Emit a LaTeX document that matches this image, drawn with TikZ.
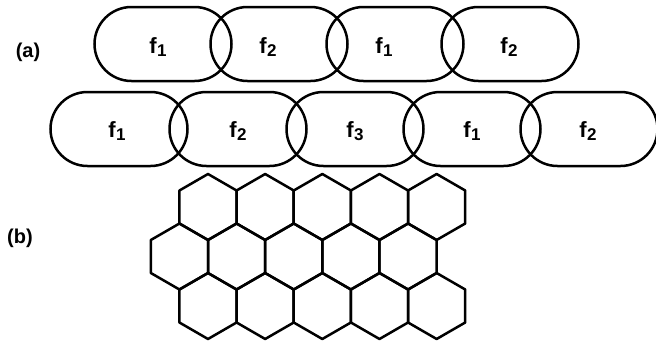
\documentclass[tikz,border=0pt]{standalone}
\usepackage{fontspec}
\setsansfont{Liberation Sans}
\usetikzlibrary{shapes.misc,shapes.geometric}
\newcommand{\freq}[1]{f\kern0.3pt\raisebox{-3pt}{\fontsize{17}{18}\selectfont #1}}
\tikzset{
  cell/.style={rounded rectangle,draw,line width=2.5pt,minimum width=137pt,
    minimum height=74pt,inner sep=0pt,outer sep=0pt},
  hexcell/.style={regular polygon,regular polygon sides=6,regular polygon rotate=30,
    draw,line width=2.5pt,line join=round,minimum size=66pt,inner sep=0pt,outer sep=0pt},
  lbl/.style={font=\sffamily\bfseries\fontsize{22}{24}\selectfont,inner sep=0pt},
  tag/.style={font=\sffamily\bfseries\fontsize{20}{22}\selectfont,inner sep=0pt}
}
\begin{document}
\begin{tikzpicture}[x=1pt,y=-1pt]
\useasboundingbox (0,0) rectangle (656,343);
\node[tag] (a) at (28,52) {(a)};
\node[tag] (b) at (20,238) {(b)};
\foreach \x/\lx/\n [count=\i] in {163/158/1,279/268/2,395/384/1,510/509/2}{
  \node[cell] (top\i) at (\x,44) {};
  \node[lbl] (ltop\i) at (\lx,47) {\freq{\n}};
}
\foreach \x/\lx/\n [count=\i] in {119/117/1,238/238/2,355/355/3,472/472/1,589/588/2}{
  \node[cell] (bot\i) at (\x,129) {};
  \node[lbl] (lbot\i) at (\lx,131) {\freq{\n}};
}
\foreach \r/\dx in {1/0,2/-28.58,3/0}
  \foreach \c in {1,...,5}
    \node[hexcell] (h\r\c) at ({208+\dx+57.16*(\c-1)},{207+49.5*(\r-1)}) {};
\end{tikzpicture}
\end{document}
